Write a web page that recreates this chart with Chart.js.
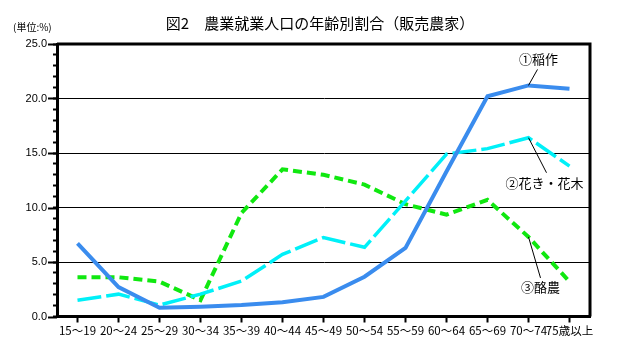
<!DOCTYPE html>
<html>
<head>
<meta charset="utf-8">
<script src="https://cdn.jsdelivr.net/npm/chart.js@4/dist/chart.umd.min.js"></script>
<style>
html,body{margin:0;padding:0;background:#fff;}
canvas{display:block;}
</style>
</head>
<body>
<canvas id="c" width="623" height="355"></canvas>
<script>
const categories = ["15～19","20～24","25～29","30～34","35～39","40～44","45～49","50～54","55～59","60～64","65～69","70～74","75歳以上"];
const ricePaddy = [6.7, 2.7, 0.8, 0.9, 1.05, 1.3, 1.8, 3.65, 6.3, 13.3, 20.2, 21.2, 20.9];
const flowers   = [1.5, 2.05, 1.05, 2.05, 3.25, 5.7, 7.25, 6.35, 10.6, 14.9, 15.4, 16.4, 13.8];
const dairy     = [3.6, 3.6, 3.2, 1.5, 9.5, 13.5, 13.0, 12.1, 10.3, 9.35, 10.7, 7.3, 3.2];
const seriesNames = ["①稲作","②花き・花木","③酪農"];
const titleText = "図2　農業就業人口の年齢別割合（販売農家）";
const unitText = "(単位:%)";
const yMin = 0, yMax = 25, yMajor = 5, yMinor = 1;

const JP = '"Noto Sans CJK JP", "Noto Sans", sans-serif';

const decorPlugin = {
  id: 'decor',
  afterDraw(chart) {
    const ctx = chart.ctx;
    const ca = chart.chartArea;
    const ys = chart.scales.y, xs = chart.scales.x;
    ctx.save();
    // frame top & right
    ctx.strokeStyle = '#000';
    ctx.lineWidth = 3;
    ctx.beginPath();
    ctx.moveTo(ca.left, ca.top);
    ctx.lineTo(ca.right, ca.top);
    ctx.lineTo(ca.right, ca.bottom);
    ctx.stroke();
    // major ticks longer
    ctx.lineWidth = 2;
    for (let v = yMin; v <= yMax; v += yMajor) {
      const py = Math.round(ys.getPixelForValue(v)) + 0.5;
      ctx.beginPath();
      ctx.moveTo(ca.left - 9, py);
      ctx.lineTo(ca.left, py);
      ctx.stroke();
    }
    // title
    ctx.fillStyle = '#000';
    ctx.textBaseline = 'middle';
    ctx.textAlign = 'center';
    ctx.font = '15px ' + JP;
    ctx.fillText(titleText, 320, 23);
    ctx.textAlign = 'left';
    ctx.font = '10px ' + JP;
    ctx.fillText(unitText, 13, 27);
    // annotations
    const ann = [
      {ds: 0, idx: 11, lx: 9, ly: -16, tx: 10, ty: -26},
      {ds: 1, idx: 11, lx: 18, ly: 35, tx: 16, ty: 45},
      {ds: 2, idx: 11, lx: 12, ly: 41, tx: 12, ty: 50}
    ];
    ctx.font = '13px ' + JP;
    ctx.textAlign = 'center';
    ctx.lineWidth = 1;
    ann.forEach(a => {
      const val = chart.data.datasets[a.ds].data[a.idx];
      const px = xs.getPixelForValue(a.idx);
      const py = ys.getPixelForValue(val);
      ctx.beginPath();
      ctx.moveTo(px, py);
      ctx.lineTo(px + a.lx, py + a.ly);
      ctx.stroke();
      ctx.fillText(seriesNames[a.ds], px + a.tx, py + a.ty);
    });
    ctx.restore();
  }
};

new Chart(document.getElementById('c'), {
  type: 'line',
  data: {
    labels: categories,
    datasets: [
      {label: seriesNames[0], data: ricePaddy, borderColor: '#3a8cee', borderWidth: 4, pointRadius: 0, tension: 0, fill: false},
      {label: seriesNames[1], data: flowers, borderColor: '#00f0f8', borderWidth: 3.5, borderDash: [24, 5], pointRadius: 0, tension: 0, fill: false},
      {label: seriesNames[2], data: dairy, borderColor: '#10e810', borderWidth: 4, borderDash: [9, 5], pointRadius: 0, tension: 0, fill: false}
    ]
  },
  options: {
    responsive: false,
    animation: false,
    devicePixelRatio: 1,
    layout: {padding: {top: 44, right: 33, left: 0, bottom: 0}},
    plugins: {legend: {display: false}, title: {display: false}, tooltip: {enabled: false}},
    scales: {
      x: {
        offset: true,
        grid: {drawOnChartArea: false, drawTicks: true, tickLength: 6, tickWidth: 2, tickColor: '#000'},
        border: {display: true, color: '#000', width: 3},
        ticks: {color: '#000', font: {family: JP, size: 11.5}, maxRotation: 0, minRotation: 0, autoSkip: false, padding: 1},
        afterFit(s) { s.height = 38.5; }
      },
      y: {
        min: yMin, max: yMax,
        grid: {
          color: (c) => (c.tick && c.tick.value % yMajor === 0 && c.tick.value > yMin && c.tick.value < yMax) ? '#000' : 'rgba(0,0,0,0)',
          lineWidth: 1,
          drawTicks: true, tickLength: 4, tickWidth: 2, tickColor: '#000'
        },
        border: {display: true, color: '#000', width: 3},
        ticks: {
          stepSize: yMinor, autoSkip: false, color: '#000',
          font: {family: '"Liberation Sans", Arial, sans-serif', size: 11},
          padding: 6,
          callback: (v) => (v % yMajor === 0) ? v.toFixed(1) : ''
        },
        afterFit(s) { s.width = 57; }
      }
    }
  },
  plugins: [decorPlugin]
});
</script>
</body>
</html>
